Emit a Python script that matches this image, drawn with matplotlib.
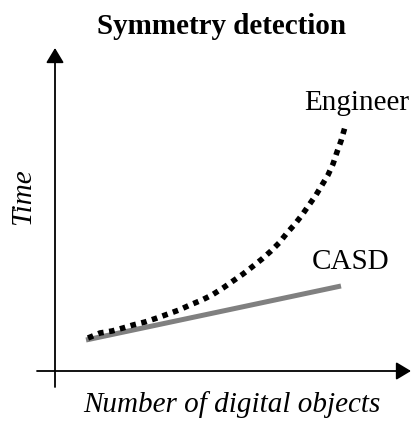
import matplotlib
matplotlib.use('Agg')
import matplotlib.pyplot as plt

# curves (arbitrary units, origin at the axes corner)
engineer_x = [3.3, 4.5, 5.7, 6.8, 7.8, 9.0, 10.2, 11.3, 12.4, 13.5, 14.7, 15.7, 16.8,
              17.8, 18.8, 19.7, 20.7, 21.6, 22.4, 23.2, 24.0, 24.7, 25.4, 26.1, 26.7,
              27.3, 27.8, 28.2, 28.6, 29.0]
engineer_y = [3.3, 3.8, 4.0, 4.3, 4.6, 4.9, 5.3, 5.7, 6.1, 6.6, 7.1, 7.6, 8.3,
              9.0, 9.7, 10.4, 11.2, 12.0, 12.8, 13.8, 14.7, 15.6, 16.6, 17.6, 18.6,
              19.6, 20.7, 21.9, 23.0, 24.4]
casd_x = [3.1, 28.6]
casd_y = [3.1, 8.5]

title = 'Symmetry detection'
x_label = 'Number of digital objects'
y_label = 'Time'

plt.rcParams['font.family'] = ['Liberation Serif', 'DejaVu Serif']

fig = plt.figure(figsize=(4.11, 4.23), dpi=100)
ax = fig.add_axes([0, 0, 1, 1])
ax.set_xlim(-5.5, 35.6)
ax.set_ylim(-5.2, 37.1)
ax.axis('off')

# axes with arrow heads
arrow = dict(arrowstyle='-|>,head_length=0.45,head_width=0.27', color='black',
             lw=1.3, mutation_scale=20, shrinkA=0, shrinkB=0)
ax.annotate('', xy=(35.6, 0), xytext=(-1.8, 0), arrowprops=arrow)
ax.annotate('', xy=(0, 32.3), xytext=(0, -1.6), arrowprops=arrow)

ax.plot(casd_x, casd_y, color='#808080', lw=3.6, solid_capstyle='butt')
ax.plot(engineer_x, engineer_y, color='black', lw=4, linestyle=(0, (1, 1)),
        dash_capstyle='butt')

ax.text(30.2, 26.8, 'Engineer', fontsize=21, ha='center', va='center')
ax.text(29.6, 10.9, 'CASD', fontsize=21, ha='center', va='center')

ax.text(16.7, 34.5, title, fontsize=21, fontweight='bold', ha='center', va='center')
ax.text(17.7, -3.4, x_label, fontsize=21, style='italic', ha='center', va='center')
ax.text(-3.2, 17.4, y_label, fontsize=21, style='italic', rotation=90,
        ha='center', va='center')

fig.savefig('out.png', dpi=100)
